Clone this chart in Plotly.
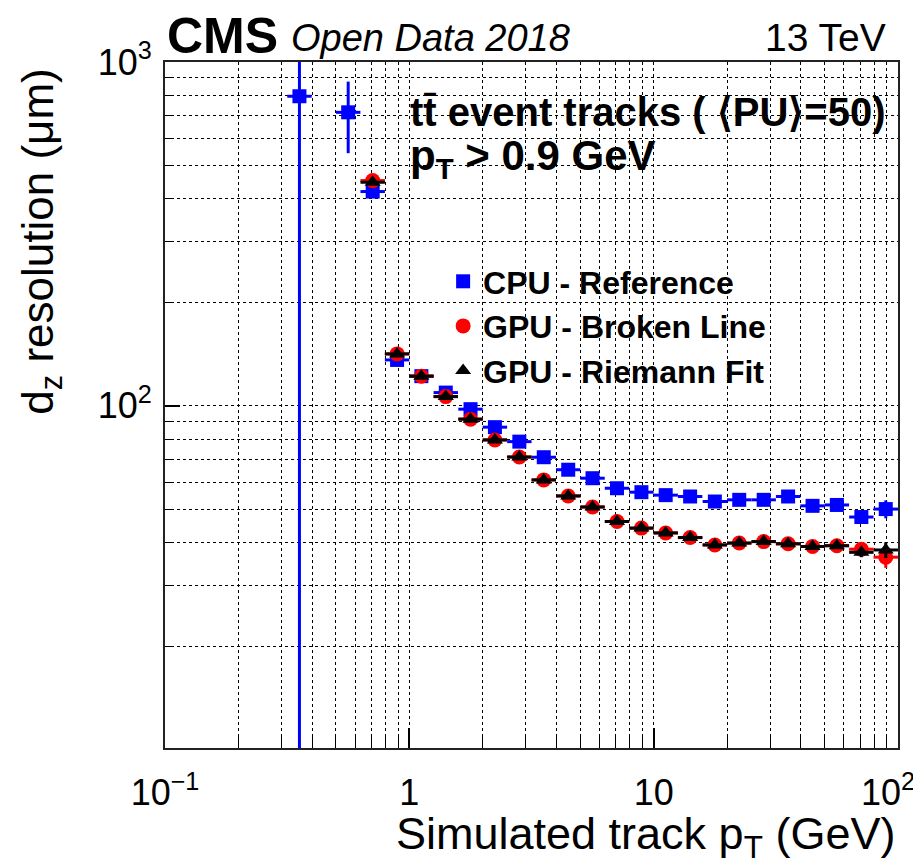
import plotly.graph_objects as go

# ---- data ----
pt_cpu = [0.355, 0.562, 0.708, 0.891, 1.12, 1.41, 1.78, 2.24, 2.82, 3.55, 4.47, 5.62,
          7.08, 8.91, 11.2, 14.1, 17.8, 22.4, 28.2, 35.5, 44.7, 56.2, 70.8, 89.1]
res_cpu = [795, 714, 420, 136, 122, 109.3, 97.8, 86.7, 78.7, 70.9, 65.2, 61.6,
           57.6, 56.1, 55.0, 54.5, 52.7, 53.3, 53.3, 54.5, 51.2, 51.5, 47.5, 50.1]
err_cpu_up = [2000, 163, 5, 1, 1, 1, 1, 1, 0.5, 0.5, 0.5, 0.5,
              0.5, 0.5, 0.5, 0.5, 0.5, 0.5, 0.5, 0.8, 1, 1, 1.5, 3]
err_cpu_dn = [790, 171, 5, 1, 1, 1, 1, 1, 0.5, 0.5, 0.5, 0.5,
              0.5, 0.5, 0.5, 0.5, 0.5, 0.5, 0.5, 0.8, 1, 1, 1.5, 3]

pt_gpu = [0.708, 0.891, 1.12, 1.41, 1.78, 2.24, 2.82, 3.55, 4.47, 5.62,
          7.08, 8.91, 11.2, 14.1, 17.8, 22.4, 28.2, 35.5, 44.7, 56.2, 70.8, 89.1]
res_bl = [452, 141.6, 122, 106.4, 91.5, 79.6, 71.0, 60.9, 54.7, 50.8,
          46.1, 44.1, 42.7, 41.4, 39.4, 39.9, 40.3, 39.7, 39.0, 39.2, 38.3, 36.3]
err_bl = [5, 1, 1, 1, 0.8, 0.5, 0.5, 0.5, 0.4, 0.4,
          0.4, 0.4, 0.4, 0.4, 0.4, 0.4, 0.4, 0.5, 0.6, 0.8, 1.5, 2.5]
res_rf = [447, 141.6, 122, 106.4, 91.5, 79.6, 71.0, 60.9, 54.7, 50.8,
          46.1, 44.1, 42.7, 41.4, 39.4, 39.9, 40.3, 39.7, 39.0, 39.2, 37.5, 38.1]
err_rf = [5, 1, 1, 1, 0.8, 0.5, 0.5, 0.5, 0.4, 0.4,
          0.4, 0.4, 0.4, 0.4, 0.4, 0.4, 0.4, 0.5, 0.6, 0.8, 1.2, 2.0]

bin_half_log = 0.05  # half bin width in log10 units

x_tickvals = [0.1, 1, 10, 100]
x_ticktext = ["10<sup>\u22121</sup>", "1", "10", "10<sup>2</sup>\u00a0\u00a0"]
x_minor = [0.2, 0.3, 0.4, 0.5, 0.6, 0.7, 0.8, 0.9,
           2, 3, 4, 5, 6, 7, 8, 9,
           20, 30, 40, 50, 60, 70, 80, 90]
y_tickvals = [100, 1000]
y_ticktext = ["10<sup>2</sup>", "10<sup>3</sup>"]
y_minor = [20, 30, 40, 50, 60, 70, 80, 90, 200, 300, 400, 500, 600, 700, 800, 900]


def xerr(xs):
    up = [x * (10 ** bin_half_log - 1) for x in xs]
    dn = [x * (1 - 10 ** -bin_half_log) for x in xs]
    return up, dn


FONT = "Liberation Sans, Arial, Helvetica, sans-serif"

fig = go.Figure()

up, dn = xerr(pt_cpu)
fig.add_trace(go.Scatter(
    x=pt_cpu, y=res_cpu, mode="markers", name="<b>CPU - Reference</b>",
    marker=dict(symbol="square", size=14, color="#0000ff"),
    error_x=dict(type="data", array=up, arrayminus=dn, color="#0000ff", thickness=3, width=0),
    error_y=dict(type="data", array=err_cpu_up, arrayminus=err_cpu_dn, color="#0000ff", thickness=3, width=0),
))

up, dn = xerr(pt_gpu)
fig.add_trace(go.Scatter(
    x=pt_gpu, y=res_bl, mode="markers", name="<b>GPU - Broken Line</b>",
    marker=dict(symbol="circle", size=15, color="#ff0000"),
    error_x=dict(type="data", array=up, arrayminus=dn, color="#ff0000", thickness=3, width=0),
    error_y=dict(type="data", array=err_bl, color="#ff0000", thickness=3, width=0),
))
fig.add_trace(go.Scatter(
    x=pt_gpu, y=res_rf, mode="markers", name="<b>GPU - Riemann Fit</b>",
    marker=dict(symbol="triangle-up", size=14, color="#000000"),
    error_x=dict(type="data", array=up, arrayminus=dn, color="#000000", thickness=3, width=0),
    error_y=dict(type="data", array=err_rf, color="#000000", thickness=3, width=0),
))

# page offset (body margin) compensation: the plot area should sit at
# screen x 164.5..898.5 and y 62..748
OFF = 8
W, H = 921, 865
SL, ST, SR, SB = 164.5, 62, 898.5, 748
pw, ph = SR - SL, SB - ST


def px_x(p):
    return (p - SL) / pw


def px_y(p):
    return 1 - (p - ST) / ph


grid = dict(showgrid=True, gridcolor="black", gridwidth=1, griddash="dot")

fig.update_layout(
    width=W, height=H,
    margin=dict(l=SL - OFF, r=W - (SR - OFF), t=ST - OFF, b=H - (SB - OFF), pad=0,
                autoexpand=False),
    paper_bgcolor="white", plot_bgcolor="white",
    font=dict(family=FONT, color="black"),
    showlegend=True,
    legend=dict(x=px_x(443), y=px_y(254), xanchor="left", yanchor="top",
                bgcolor="rgba(0,0,0,0)", font=dict(size=32, family=FONT),
                itemwidth=30, tracegroupgap=0),
    xaxis=dict(type="log", range=[-1, 2], tickmode="array", tickvals=x_tickvals,
               ticktext=x_ticktext, ticks="inside", ticklen=20, tickwidth=1.5,
               tickcolor="black", tickfont=dict(size=36), ticklabelstandoff=12,
               ticklabeloverflow="allow",
               showline=True, linecolor="#222", linewidth=2, mirror=True,
               zeroline=False, automargin=False,
               minor=dict(tickmode="array", tickvals=x_minor, ticks="inside", ticklen=11,
                          tickcolor="black", tickwidth=1.2, **grid),
               **grid),
    yaxis=dict(type="log", range=[1.005, 3.0], tickmode="array", tickvals=y_tickvals,
               ticktext=y_ticktext, ticks="inside", ticklen=15, tickwidth=1.5,
               tickcolor="black", tickfont=dict(size=36), ticklabelstandoff=4,
               ticklabeloverflow="allow",
               showline=True, linecolor="#222", linewidth=2, mirror=True,
               zeroline=False, automargin=False,
               minor=dict(tickmode="array", tickvals=y_minor, ticks="inside", ticklen=8,
                          tickcolor="black", tickwidth=1.2, **grid),
               **grid),
)

ann = [
    dict(text="<b>CMS</b>", x=0, y=px_y(36), xanchor="left", yanchor="middle",
         font=dict(size=50)),
    dict(text="<i>Open Data 2018</i>", x=px_x(289), y=px_y(38), xanchor="left",
         yanchor="middle", font=dict(size=38)),
    dict(text="13 TeV", x=px_x(888), y=px_y(37), xanchor="right", yanchor="middle",
         font=dict(size=39)),
    dict(text="<b>tt\u0304 event tracks ( \u27e8PU\u27e9=50)</b>", x=px_x(408), y=px_y(112),
         xanchor="left", yanchor="middle", font=dict(size=40)),
    dict(text="<b>p<sub>T</sub> &gt; 0.9 GeV</b>", x=px_x(408), y=px_y(158),
         xanchor="left", yanchor="middle", font=dict(size=42)),
    dict(text="Simulated track p<sub>T</sub> (GeV)", x=px_x(897), y=px_y(836),
         xanchor="right", yanchor="middle", font=dict(size=45)),
    dict(text="d<sub>z</sub> resolution (\u03bcm)", x=px_x(40), y=px_y(67),
         xanchor="center", yanchor="top", textangle=-90, font=dict(size=44)),
]
for a in ann:
    a.update(xref="paper", yref="paper", showarrow=False)
fig.update_layout(annotations=ann)

fig.write_html("out.html")
